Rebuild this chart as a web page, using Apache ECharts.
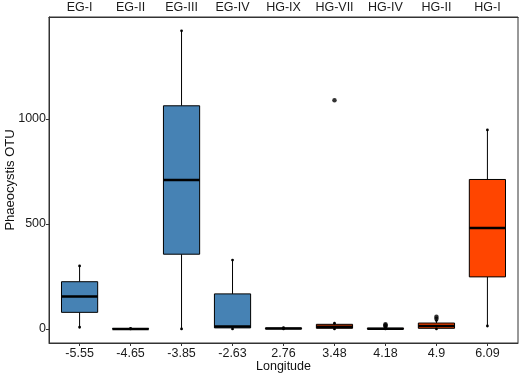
<!DOCTYPE html>
<html>
<head>
<meta charset="utf-8">
<script src="https://cdn.jsdelivr.net/npm/echarts@6/dist/echarts.min.js"></script>
<style>html,body{margin:0;padding:0;background:#fff;}#c{width:520px;height:376px;}</style>
</head>
<body>
<div id="c"></div>
<script>
// ---- data ----
var longitudes = ['-5.55', '-4.65', '-3.85', '-2.63', '2.76', '3.48', '4.18', '4.9', '6.09'];
var stations = ['EG-I', 'EG-II', 'EG-III', 'EG-IV', 'HG-IX', 'HG-VII', 'HG-IV', 'HG-II', 'HG-I'];
var regions = ['EG', 'EG', 'EG', 'EG', 'HG', 'HG', 'HG', 'HG', 'HG'];
var mins    = [8,   0, 0,    0,   0,  0,  0,  0,  14];
var q1s     = [79,  0, 356,  5,   1,  3,  0,  3,  248];
var medians = [154, 0, 710,  12,  2,  10, 1,  14, 481];
var q3s     = [225, 1, 1063, 167, 4,  22, 3,  28, 712];
var maxs    = [300, 2, 1420, 328, 6,  27, 6,  40, 948];
var outlierIdx = [5, 6, 6, 6, 7, 7];
var outlierVal = [1090, 12, 18, 22, 48, 58];
var yTicks = [0, 500, 1000];

var regionColor = { EG: '#4682B4', HG: '#FF4500' };
var FONT = 'Liberation Sans, Arial, sans-serif';
var catIdx = longitudes.map(function (_, i) { return i; });

var boxData = catIdx.map(function (i) {
  return [i, mins[i], q1s[i], medians[i], q3s[i], maxs[i]];
});
var outData = outlierIdx.map(function (c, k) { return [c, outlierVal[k]]; });

var chart = echarts.init(document.getElementById('c'), null, { renderer: 'canvas' });
chart.setOption({
  animation: false,
  backgroundColor: '#fff',
  textStyle: { fontFamily: FONT },
  grid: { left: 49, top: 17, right: 2, bottom: 33, containLabel: false, outerBoundsMode: 'none',
    show: true, borderColor: '#333', borderWidth: 1, backgroundColor: '#fff' },
  xAxis: [
    {
      type: 'value', position: 'bottom', min: -0.6, max: 8.6,
      axisLine: { show: true, onZero: false, lineStyle: { color: '#333', width: 1 } },
      axisTick: { show: true, length: 3, customValues: catIdx, lineStyle: { color: '#333' } },
      axisLabel: { customValues: catIdx, formatter: function (v) { return longitudes[Math.round(v)]; },
        color: '#1a1a1a', fontSize: 12.5, margin: 4, fontFamily: FONT },
      splitLine: { show: false },
      name: 'Longitude', nameLocation: 'middle', nameGap: 17, nameMoveOverlap: false,
      nameTextStyle: { color: '#111', fontSize: 12.5, fontFamily: FONT }
    },
    {
      type: 'value', position: 'top', min: -0.6, max: 8.6,
      axisLine: { show: true, onZero: false, lineStyle: { color: '#333', width: 1 } },
      axisTick: { show: false },
      axisLabel: { customValues: catIdx, formatter: function (v) { return stations[Math.round(v)]; },
        color: '#1a1a1a', fontSize: 12.5, margin: 3, fontFamily: FONT },
      splitLine: { show: false }
    }
  ],
  yAxis: {
    type: 'value', min: -67, max: 1486,
    axisLine: { show: true, onZero: false, lineStyle: { color: '#333', width: 1 } },
    axisTick: { show: true, length: 3, customValues: yTicks, lineStyle: { color: '#333' } },
    axisLabel: { customValues: yTicks, formatter: function (v) { return String(v); },
      color: '#1a1a1a', fontSize: 12.5, margin: 3, fontFamily: FONT },
    splitLine: { show: false },
    name: 'Phaeocystis OTU', nameLocation: 'middle', nameGap: 32, nameRotate: 90, nameMoveOverlap: false,
    nameTextStyle: { color: '#111', fontSize: 13, fontFamily: FONT }
  },
  series: [
    {
      type: 'custom',
      xAxisIndex: 0,
      data: boxData,
      encode: { x: 0, y: [1, 2, 3, 4, 5] },
      renderItem: function (params, api) {
        var i = api.value(0);
        var w = api.size([0.71, 0])[0];
        var pMin = api.coord([i, api.value(1)]);
        var pQ1 = api.coord([i, api.value(2)]);
        var pMd = api.coord([i, api.value(3)]);
        var pQ3 = api.coord([i, api.value(4)]);
        var pMx = api.coord([i, api.value(5)]);
        var x = pMd[0];
        var fill = regionColor[regions[i]];
        return {
          type: 'group',
          children: [
            { type: 'line', shape: { x1: x, y1: pMx[1], x2: x, y2: pQ3[1] }, style: { stroke: '#000', lineWidth: 1 } },
            { type: 'line', shape: { x1: x, y1: pQ1[1], x2: x, y2: pMin[1] }, style: { stroke: '#000', lineWidth: 1 } },
            { type: 'rect', shape: { x: x - w / 2, y: pQ3[1], width: w, height: pQ1[1] - pQ3[1] },
              style: { fill: fill, stroke: '#000', lineWidth: 1 } },
            { type: 'line', shape: { x1: x - w / 2, y1: pMd[1], x2: x + w / 2, y2: pMd[1] }, style: { stroke: '#000', lineWidth: 2.5 } },
            { type: 'circle', shape: { cx: x, cy: pMin[1], r: 1.4 }, style: { fill: '#000' } },
            { type: 'circle', shape: { cx: x, cy: pMx[1], r: 1.4 }, style: { fill: '#000' } }
          ]
        };
      }
    },
    {
      type: 'scatter',
      xAxisIndex: 0,
      data: outData,
      symbol: 'circle',
      symbolSize: 4.5,
      itemStyle: { color: '#000' }
    }
  ]
});
</script>
</body>
</html>
